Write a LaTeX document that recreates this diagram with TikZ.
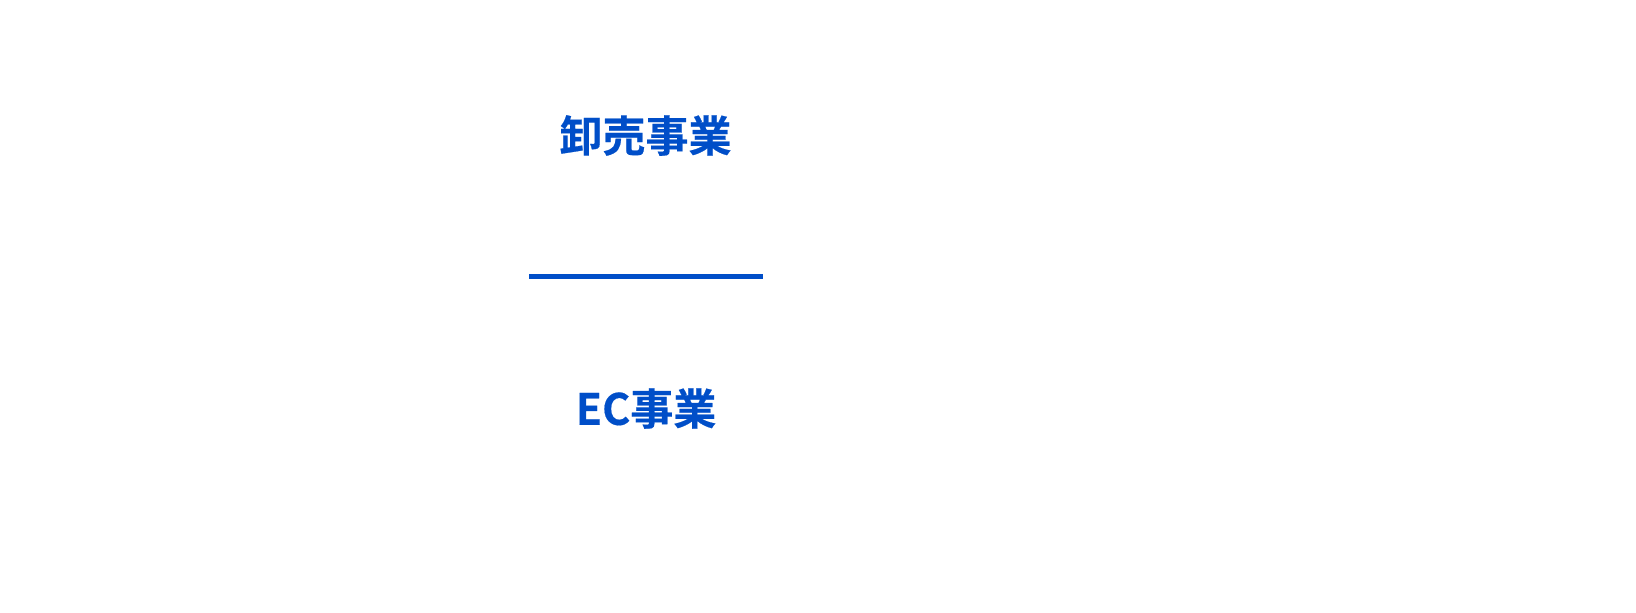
\documentclass[tikz,border=0pt]{standalone}
\usepackage{fontspec}
\newfontfamily\cjk[FakeBold=0.4]{Noto Sans CJK JP Bold}
\definecolor{brandblue}{RGB}{0,78,200}
\begin{document}
\begin{tikzpicture}[x=1pt,y=1pt,
  label/.style={inner sep=0pt, text=brandblue, font=\cjk\fontsize{21.5pt}{26pt}\selectfont}]
\useasboundingbox (0,0) rectangle (818,306);
\node[label] (wholesale) at (322.75,238.25) {卸売事業};
\coordinate (divL) at (264.5,168);
\coordinate (divR) at (381.5,168);
\draw[brandblue, line width=2.5pt] (divL) -- (divR);
\node[label] (ec) at (323,101.75) {EC事業};
\end{tikzpicture}
\end{document}
